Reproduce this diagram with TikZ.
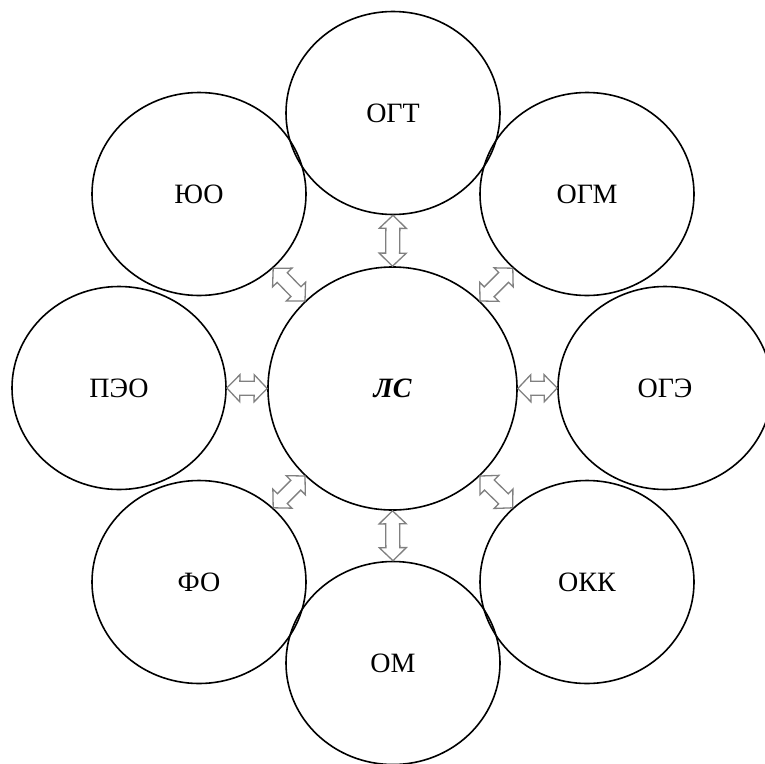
\documentclass[tikz,border=0pt]{standalone}
\usepackage{fontspec}
\setmainfont{Liberation Serif}
\usetikzlibrary{shapes.geometric,calc}
\tikzset{
  circ/.style={ellipse, draw, line width=1.6pt, minimum width=214pt, minimum height=203pt,
    inner sep=0pt, font=\fontsize{28}{33}\selectfont},
  bigc/.style={circ, minimum width=249pt, minimum height=243pt,
    font=\fontsize{28}{33}\selectfont\bfseries\itshape},
  arrowbox/.style={draw=gray, fill=white, line width=1.3pt, line join=miter}
}
\newcommand{\dblarr}[2]{%
  \draw[arrowbox] (#1)
  -- ($(#1)!13pt!(#2)!13.5pt!90:(#2)$)
  -- ($(#1)!13pt!(#2)!7pt!90:(#2)$)
  -- ($(#2)!13pt!(#1)!7pt!-90:(#1)$)
  -- ($(#2)!13pt!(#1)!13.5pt!-90:(#1)$)
  -- (#2)
  -- ($(#2)!13pt!(#1)!13.5pt!90:(#1)$)
  -- ($(#2)!13pt!(#1)!7pt!90:(#1)$)
  -- ($(#1)!13pt!(#2)!7pt!-90:(#2)$)
  -- ($(#1)!13pt!(#2)!13.5pt!-90:(#2)$)
  -- cycle;}
\begin{document}
\begin{tikzpicture}[x=1pt,y=-1pt]
\useasboundingbox (0,0) rectangle (765,763);
\clip (0,0) rectangle (765,763);
\node[bigc] (ls) at (392.5,388.5) {ЛС};
\node[circ] (ogt) at (393,113) {ОГТ};
\node[circ] (om) at (393,663) {ОМ};
\node[circ] (yuo) at (199,194) {ЮО};
\node[circ] (ogm) at (587,194) {ОГМ};
\node[circ] (peo) at (119,388) {ПЭО};
\node[circ] (oge) at (665,388) {ОГЭ};
\node[circ] (fo) at (199,582) {ФО};
\node[circ] (okk) at (587,582) {ОКК};
\dblarr{ogt.south}{ls.north}
\dblarr{om.north}{ls.south}
\dblarr{peo.east}{ls.west}
\dblarr{oge.west}{ls.east}
\dblarr{yuo.-45}{ls.135}
\dblarr{ogm.-135}{ls.45}
\dblarr{fo.45}{ls.-135}
\dblarr{okk.135}{ls.-45}
\end{tikzpicture}
\end{document}
